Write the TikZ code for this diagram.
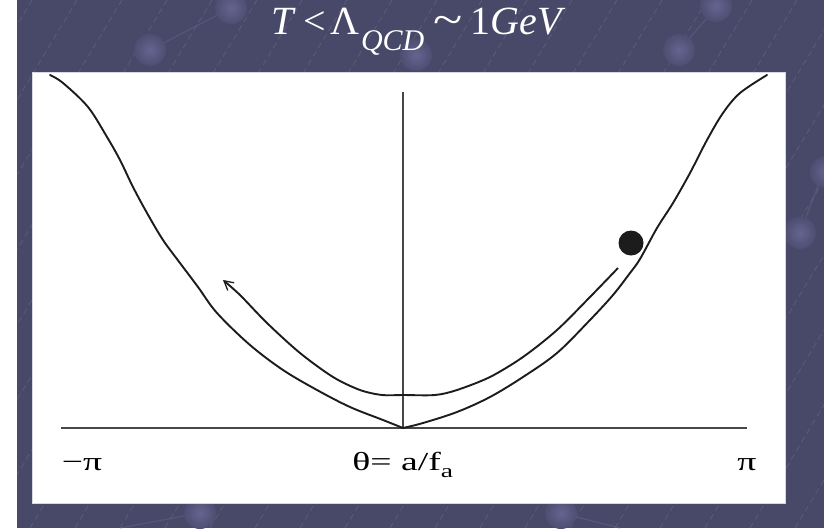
\documentclass[tikz,border=0pt]{standalone}
\usepackage{fontspec}
\setmainfont{Liberation Serif}
\usetikzlibrary{arrows.meta}
\definecolor{bgc}{RGB}{72,72,104}
\definecolor{ballin}{RGB}{100,100,144}
\definecolor{ballout}{RGB}{78,78,114}
\definecolor{boxedge}{RGB}{215,215,225}
\definecolor{ink}{RGB}{28,28,28}
\tikzset{
  curve/.style={line width=1.9pt, draw=ink, line join=round, line cap=round},
  axisline/.style={line width=1.3pt, draw=black!72},
  lbl/.style={font=\fontsize{26}{30}\selectfont, xscale=1.45, inner sep=0pt, text=black},
  ttl/.style={font=\fontsize{40}{44}\selectfont, text=white, inner sep=0pt},
  streak/.style={draw=white, opacity=0.11, line width=0.8pt, dash pattern=on 6pt off 4pt},
  ball/.style={inner color=ballin, outer color=ballout},
  link/.style={draw=ballin, opacity=0.5, line width=1.2pt}
}
\begin{document}
\begin{tikzpicture}[x=1pt,y=-1pt]
\useasboundingbox (0,0) rectangle (824,528);
% background
\fill[white] (0,0) rectangle (824,528);
\fill[bgc] (17,0) rectangle (824,528);
\begin{scope}
\clip (17,0) rectangle (824,528);
\foreach \s in {-330,-285,...,830} {
  \draw[streak] (\s,528) -- ++(317,-528);
}
\draw[link] (150,50) -- (231,8);
\draw[link] (679,50) -- (716,8);
\draw[link] (800,233) -- (824,170);
\draw[link] (200,513) -- (120,528);
\draw[link] (561,513) -- (620,528);
\foreach \p in {(150,50),(231,8),(416,55),(679,50),(716,6),(800,233),(826,172),(200,513),(561,513)} {
  \shade[ball] \p circle (16);
}
\end{scope}
% title
\node[ttl, anchor=base west] (title) at (271,34)
  {\itshape T\upshape\hspace{10pt}<\hspace{5pt}Λ\hspace{1pt}\raisebox{-0.42em}{\fontsize{30}{30}\selectfont\itshape QCD}\hspace{9pt}\scalebox{1.35}[1.1]{\symbol{"7E}}\hspace{8pt}1\itshape GeV};
% white panel
\fill[white, draw=boxedge, line width=0.8pt] (32,72) rectangle (785,503);
% axes
\coordinate (xl) at (61,428);
\coordinate (xr) at (747,428);
\coordinate (o) at (403,428);
\coordinate (yt) at (403,92);
\draw[axisline] (xl) -- (xr);
\draw[axisline] (o) -- (yt);
% potential
\draw[curve] plot[smooth, tension=0.55] coordinates {
 (50,75) (63,83) (88,107) (107,137) (120,160) (133,187) (147,213) (163,240)
 (180,263) (198,287) (217,313) (250,345) (283,370) (317,390) (350,407) (383,420) (403,428)};
\draw[curve] plot[smooth, tension=0.55] coordinates {
 (403,428) (423,423) (457,412) (490,397) (523,377) (557,353) (590,320) (613,295)
 (630,273) (640,259) (657,228) (673,203) (690,173) (707,140) (723,113) (740,93) (767,75)};
% rolling path with arrow
\draw[curve, line cap=butt, -{Straight Barb[length=9pt,width=10pt,line width=1.3pt]}] plot[smooth, tension=0.5] coordinates {
 (618,268) (590,297) (557,330) (523,357) (490,377) (457,390) (435,395) (403,395)
 (382,395) (360,390) (333,377) (300,353) (267,323) (240,295) (223,280)};
% ball
\fill[ink] (631,243) circle (12.5);
\node[inner sep=0pt] (ballnode) at (631,243) {};
% labels
\node[lbl, anchor=base] (mpi) at (82,470) {−π};
\node[lbl, anchor=base west] (theta) at (352,470) {θ= a/f\raisebox{-0.3em}{\fontsize{19}{19}\selectfont a}};
\node[lbl, anchor=base] (ppi) at (747,470) {π};
\end{tikzpicture}
\end{document}
